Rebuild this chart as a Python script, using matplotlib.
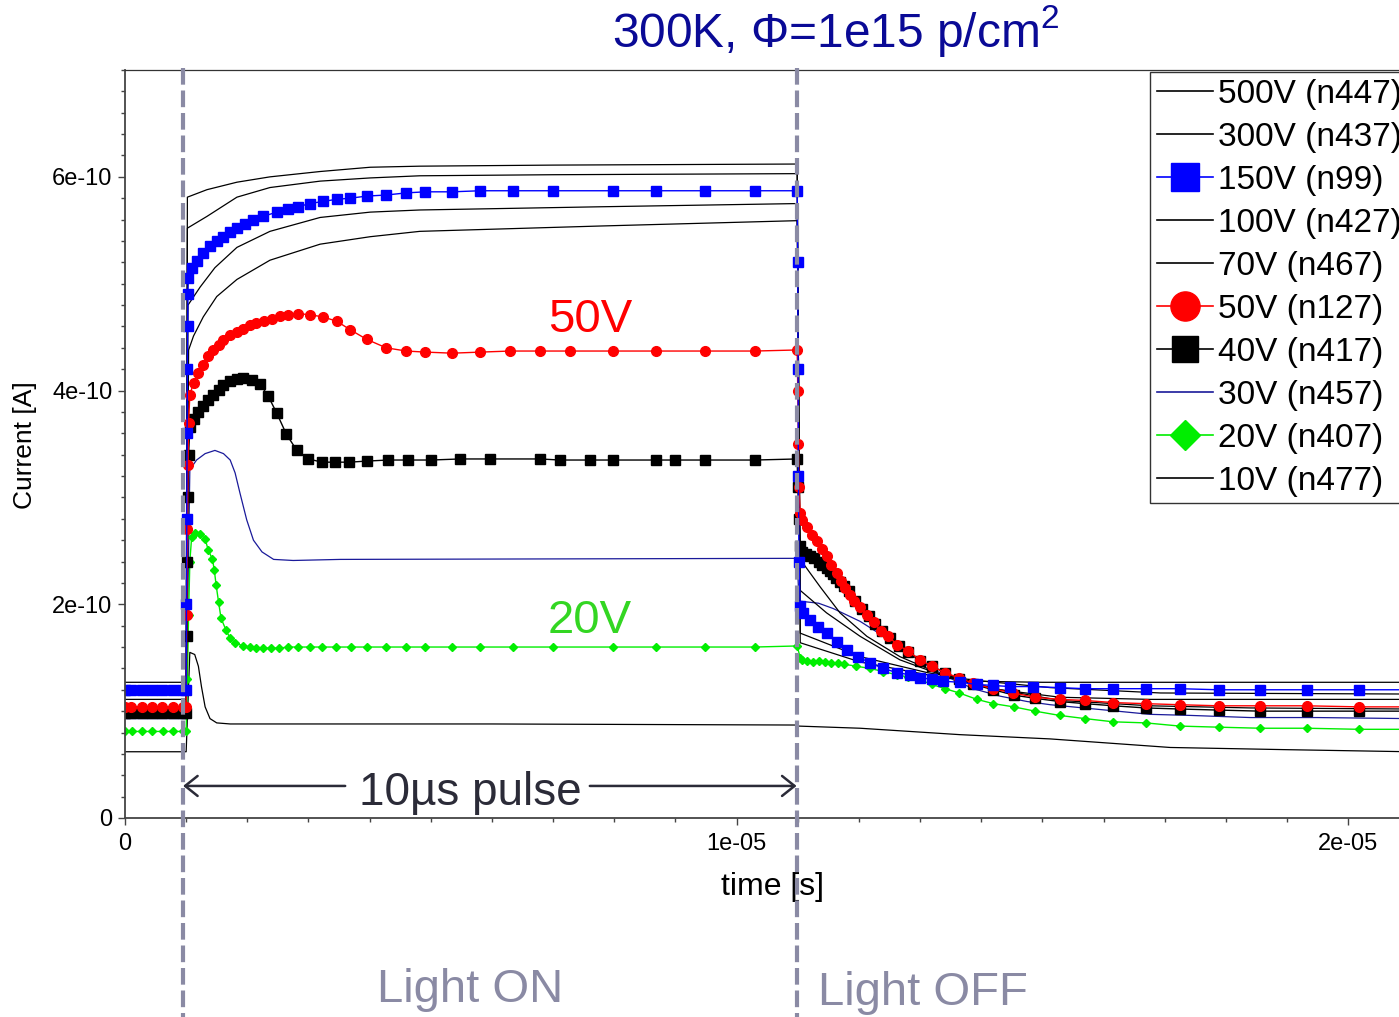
import matplotlib
matplotlib.use('Agg')
import matplotlib.pyplot as plt
import numpy as np
from matplotlib.lines import Line2D
from matplotlib.ticker import FixedLocator, MultipleLocator, FuncFormatter

plt.rcParams['font.family'] = ['Liberation Sans', 'DejaVu Sans']
plt.rcParams['mathtext.fontset'] = 'custom'
plt.rcParams['mathtext.rm'] = 'Liberation Sans'

# transient current after a 10 us light pulse, (time [us], current [1e-10 A])
T_ON, T_OFF = 0.95, 10.98

s500 = [(0, 1.27), (1.0, 1.27), (1.02, 5.81), (1.34, 5.88), (1.83, 5.95), (2.37, 6.00), (3.19, 6.05),
        (4.01, 6.09), (4.82, 6.10), (7.0, 6.11), (10.99, 6.12), (11.04, 1.64), (12.02, 1.46),
        (13.12, 1.34), (13.87, 1.28), (15.0, 1.27), (21.0, 1.27)]
s300 = [(0, 1.16), (1.0, 1.16), (1.02, 5.52), (1.34, 5.63), (1.83, 5.81), (2.37, 5.90), (3.19, 5.96),
        (4.01, 5.99), (4.82, 6.01), (7.0, 6.02), (10.99, 6.03), (11.04, 1.73), (12.02, 1.51),
        (13.12, 1.36), (13.87, 1.29), (15.13, 1.22), (16.93, 1.17), (21.0, 1.16)]
s150 = [(0, 1.20), (0.1, 1.20), (0.28, 1.20), (0.44, 1.20), (0.6, 1.20), (0.78, 1.20), (0.95, 1.20),
        (1.0, 1.20), (1.005, 2.0), (1.01, 2.8), (1.015, 3.6), (1.02, 4.2), (1.025, 4.6), (1.03, 4.9),
        (1.035, 5.05), (1.09, 5.15), (1.17, 5.21), (1.28, 5.29), (1.39, 5.35), (1.50, 5.40), (1.61, 5.44),
        (1.72, 5.48), (1.83, 5.52), (1.96, 5.56), (2.10, 5.60), (2.26, 5.63), (2.48, 5.67), (2.67, 5.70),
        (2.83, 5.72), (3.02, 5.75), (3.24, 5.77), (3.46, 5.79), (3.68, 5.80), (3.95, 5.82), (4.27, 5.83),
        (4.60, 5.85), (4.91, 5.86), (5.35, 5.86), (5.81, 5.87), (6.35, 5.87), (7.0, 5.87), (7.98, 5.87),
        (8.68, 5.87), (9.48, 5.87), (10.3, 5.87), (10.99, 5.87), (11.0, 5.2), (11.005, 4.2), (11.01, 3.2),
        (11.02, 2.4), (11.04, 1.98), (11.09, 1.92), (11.20, 1.85), (11.33, 1.79), (11.47, 1.73),
        (11.64, 1.65), (11.80, 1.57), (11.99, 1.51), (12.18, 1.45), (12.40, 1.40), (12.62, 1.36),
        (12.84, 1.34), (13.00, 1.31), (13.19, 1.30), (13.38, 1.28), (13.65, 1.27), (13.93, 1.25),
        (14.20, 1.24), (14.47, 1.23), (14.85, 1.23), (15.28, 1.22), (15.70, 1.21), (16.16, 1.21),
        (16.69, 1.21), (17.25, 1.21), (17.88, 1.20), (18.56, 1.20), (19.32, 1.20), (20.17, 1.20),
        (21.0, 1.20)]
s100 = [(0, 1.11), (1.0, 1.11), (1.03, 4.80), (1.23, 4.97), (1.47, 5.15), (1.83, 5.34), (2.37, 5.49),
        (3.19, 5.62), (4.01, 5.67), (4.82, 5.69), (7.77, 5.72), (10.99, 5.75), (11.04, 2.13), (11.47, 1.92),
        (12.02, 1.70), (12.67, 1.48), (13.44, 1.32), (14.31, 1.20), (15.29, 1.13), (16.76, 1.11), (21.0, 1.11)]
s70 = [(0, 1.01), (1.0, 1.01), (1.04, 4.38), (1.12, 4.51), (1.28, 4.69), (1.50, 4.88), (1.83, 5.04),
       (2.37, 5.22), (3.19, 5.37), (4.01, 5.44), (4.82, 5.49), (7.77, 5.54), (10.99, 5.59), (11.04, 2.42),
       (11.37, 2.16), (11.69, 1.92), (12.13, 1.70), (12.67, 1.51), (13.28, 1.36), (13.65, 1.29),
       (14.31, 1.20), (15.29, 1.10), (16.76, 1.05), (18.4, 1.03), (21.0, 1.02)]
s50 = [(0, 1.04), (0.1, 1.04), (0.28, 1.04), (0.44, 1.04), (0.6, 1.04), (0.78, 1.04), (0.95, 1.04),
       (1.0, 1.04), (1.01, 1.9), (1.02, 2.7), (1.03, 3.3), (1.04, 3.7), (1.06, 3.96), (1.12, 4.07),
       (1.20, 4.16), (1.28, 4.24), (1.36, 4.32), (1.44, 4.38), (1.53, 4.43), (1.61, 4.47), (1.72, 4.52),
       (1.83, 4.55), (1.93, 4.58), (2.04, 4.61), (2.15, 4.63), (2.27, 4.65), (2.40, 4.67), (2.53, 4.70),
       (2.67, 4.71), (2.83, 4.72), (3.02, 4.71), (3.23, 4.69), (3.46, 4.65), (3.68, 4.57), (3.95, 4.48),
       (4.27, 4.40), (4.60, 4.37), (4.91, 4.36), (5.35, 4.35), (5.81, 4.36), (6.30, 4.37), (6.79, 4.37),
       (7.28, 4.37), (7.98, 4.37), (8.68, 4.37), (9.48, 4.37), (10.30, 4.37), (10.99, 4.38), (11.0, 4.0),
       (11.01, 3.5), (11.02, 3.1), (11.04, 2.85), (11.07, 2.79), (11.15, 2.72), (11.23, 2.65),
       (11.31, 2.59), (11.39, 2.52), (11.47, 2.45), (11.55, 2.37), (11.64, 2.29), (11.70, 2.22),
       (11.77, 2.15), (11.85, 2.09), (11.92, 2.03), (12.02, 1.97), (12.13, 1.90), (12.24, 1.83),
       (12.36, 1.75), (12.48, 1.70), (12.63, 1.62), (12.81, 1.56), (13.00, 1.48), (13.19, 1.42),
       (13.41, 1.36), (13.64, 1.31), (13.87, 1.26), (14.19, 1.21), (14.52, 1.17), (14.88, 1.13),
       (15.28, 1.11), (15.70, 1.10), (16.16, 1.08), (16.69, 1.07), (17.25, 1.06), (17.88, 1.05),
       (18.56, 1.05), (19.32, 1.05), (20.17, 1.04), (21.0, 1.04)]
s40 = [(0, 0.98), (0.1, 0.98), (0.28, 0.98), (0.44, 0.98), (0.6, 0.98), (0.78, 0.98), (0.95, 0.98),
       (1.0, 0.98), (1.01, 1.7), (1.02, 2.4), (1.03, 3.0), (1.04, 3.4), (1.06, 3.66), (1.12, 3.73),
       (1.20, 3.80), (1.28, 3.86), (1.36, 3.91), (1.44, 3.96), (1.53, 4.01), (1.61, 4.05), (1.72, 4.09),
       (1.83, 4.11), (1.93, 4.12), (2.07, 4.10), (2.21, 4.06), (2.34, 3.95), (2.48, 3.79), (2.64, 3.59),
       (2.81, 3.44), (3.00, 3.36), (3.22, 3.33), (3.43, 3.33), (3.67, 3.33), (3.95, 3.34), (4.30, 3.35),
       (4.62, 3.35), (5.0, 3.35), (5.48, 3.36), (5.97, 3.36), (6.79, 3.36), (7.11, 3.35), (7.60, 3.35),
       (7.98, 3.35), (8.68, 3.35), (9.0, 3.35), (9.48, 3.35), (10.30, 3.35), (10.99, 3.36), (11.0, 3.1),
       (11.02, 2.8), (11.04, 2.55), (11.07, 2.49), (11.13, 2.47), (11.20, 2.45), (11.27, 2.43),
       (11.34, 2.40), (11.40, 2.37), (11.47, 2.34), (11.52, 2.31), (11.58, 2.28), (11.63, 2.25),
       (11.69, 2.21), (11.76, 2.17), (11.83, 2.12), (11.94, 2.03), (12.05, 1.96), (12.16, 1.89),
       (12.26, 1.82), (12.37, 1.75), (12.51, 1.68), (12.65, 1.61), (12.81, 1.55), (13.00, 1.47),
       (13.19, 1.42), (13.41, 1.36), (13.64, 1.30), (13.87, 1.25), (14.20, 1.20), (14.53, 1.15),
       (14.88, 1.12), (15.28, 1.09), (15.70, 1.07), (16.16, 1.05), (16.69, 1.03), (17.25, 1.02),
       (17.88, 1.01), (18.56, 1.00), (19.32, 1.00), (20.17, 1.00), (21.0, 1.00)]
s30 = [(0, 0.93), (1.0, 0.93), (1.06, 3.26), (1.17, 3.35), (1.31, 3.41), (1.47, 3.44), (1.61, 3.41),
       (1.72, 3.35), (1.80, 3.23), (1.88, 3.04), (1.99, 2.79), (2.10, 2.60), (2.24, 2.49), (2.43, 2.42),
       (2.75, 2.41), (3.52, 2.42), (10.99, 2.43), (11.02, 2.03), (11.34, 2.01), (11.58, 1.96),
       (11.80, 1.90), (12.02, 1.84), (12.24, 1.76), (12.46, 1.68), (12.67, 1.60), (12.89, 1.52),
       (13.11, 1.43), (13.44, 1.32), (13.87, 1.21), (14.31, 1.14), (14.75, 1.09), (15.13, 1.06),
       (15.67, 1.03), (16.22, 1.00), (16.76, 0.97), (17.42, 0.96), (18.40, 0.94), (19.49, 0.94),
       (21.0, 0.93)]
s20 = [(0, 0.81), (0.11, 0.81), (0.28, 0.81), (0.44, 0.81), (0.62, 0.81), (0.78, 0.81), (0.95, 0.81),
       (1.0, 0.81), (1.02, 1.3), (1.04, 1.9), (1.06, 2.4), (1.09, 2.63), (1.14, 2.67), (1.23, 2.66),
       (1.31, 2.61), (1.36, 2.51), (1.43, 2.42), (1.46, 2.32), (1.49, 2.18), (1.53, 2.02), (1.57, 1.87),
       (1.65, 1.76), (1.72, 1.68), (1.80, 1.64), (1.93, 1.61), (2.04, 1.60), (2.15, 1.59), (2.26, 1.59),
       (2.39, 1.59), (2.52, 1.59), (2.67, 1.60), (2.83, 1.60), (3.03, 1.60), (3.22, 1.60), (3.45, 1.60),
       (3.69, 1.60), (3.96, 1.60), (4.27, 1.60), (4.60, 1.60), (4.91, 1.60), (5.35, 1.60), (5.81, 1.60),
       (6.35, 1.60), (7.0, 1.60), (7.98, 1.60), (8.68, 1.60), (9.48, 1.60), (10.30, 1.60), (10.99, 1.61),
       (11.04, 1.50), (11.07, 1.48), (11.15, 1.47), (11.25, 1.46), (11.35, 1.47), (11.45, 1.46),
       (11.55, 1.45), (11.65, 1.45), (11.75, 1.44), (11.96, 1.42), (12.18, 1.40), (12.40, 1.37),
       (12.62, 1.34), (12.80, 1.32), (12.97, 1.30), (13.19, 1.25), (13.41, 1.21), (13.64, 1.17),
       (13.93, 1.11), (14.20, 1.07), (14.53, 1.04), (14.88, 1.00), (15.28, 0.96), (15.70, 0.93),
       (16.16, 0.90), (16.69, 0.89), (17.25, 0.86), (17.88, 0.85), (18.56, 0.84), (19.32, 0.84),
       (20.17, 0.83), (21.0, 0.83)]
s10 = [(0, 0.62), (1.0, 0.62), (1.06, 1.55), (1.14, 1.53), (1.20, 1.42), (1.25, 1.23), (1.31, 1.04),
       (1.39, 0.93), (1.50, 0.89), (1.72, 0.88), (6.0, 0.88), (10.99, 0.87), (11.02, 0.86), (12.02, 0.84),
       (13.65, 0.78), (15.13, 0.74), (17.09, 0.66), (18.94, 0.64), (21.0, 0.62)]

labels = ['500V (n447)', '300V (n437)', '150V (n99)', '100V (n427)', '70V (n467)',
          '50V (n127)', '40V (n417)', '30V (n457)', '20V (n407)', '10V (n477)']

BLUE, RED, GREEN, NAVY = '#0000ff', '#ff0000', '#00ee00', '#1a1a9a'
GREY = '#8a8aa4'
INK = '#2b2b38'

fig = plt.figure(figsize=(13.99, 10.17), dpi=100)
ax = fig.add_axes([125 / 1399, 199 / 1017, 1274 / 1399, 748 / 1017])


def draw(series, **kw):
    t, cur = zip(*series)
    ax.plot(np.array(t) * 1e-6, np.array(cur) * 1e-10, **kw)


thin = dict(color='black', lw=0.9)
draw(s10, **thin)
draw(s30, color=NAVY, lw=0.9)
draw(s70, **thin)
draw(s100, **thin)
draw(s300, **thin)
draw(s500, **thin)
draw(s20, color=GREEN, lw=1, marker='D', ms=4.5, mec=GREEN)
draw(s40, color='black', lw=1, marker='s', ms=6.5)
draw(s50, color=RED, lw=1, marker='o', ms=7)
draw(s150, color=BLUE, lw=1, marker='s', ms=6.5)

ax.set_xlim(0, 2.083e-5)
ax.set_ylim(0, 7e-10)

# light on / light off markers, running down past the axes
for tx in (T_ON, T_OFF):
    ax.plot([tx * 1e-6, tx * 1e-6], [1.003, -0.27], transform=ax.get_xaxis_transform(),
            color=GREY, lw=3, dashes=(4, 1.4), clip_on=False, zorder=10)

# pulse length arrow, split around its label
arrow_y = 0.30e-10
head = dict(arrowstyle='->,head_length=0.45,head_width=0.36', lw=1.8, color=INK,
            shrinkA=0, shrinkB=0, mutation_scale=20)
ax.annotate('', xy=(T_ON * 1e-6, arrow_y), xytext=(3.6e-6, arrow_y), arrowprops=head)
ax.annotate('', xy=(T_OFF * 1e-6, arrow_y), xytext=(7.6e-6, arrow_y), arrowprops=head)
ax.text(5.64e-6, 0.12e-10, '10\u00b5s pulse', fontsize=33, color=INK, ha='center', va='baseline')

ax.text(7.6e-6, 4.55e-10, '50V', fontsize=34, color=RED, ha='center', va='baseline')
ax.text(7.6e-6, 1.73e-10, '20V', fontsize=34, color='#33d622', ha='center', va='baseline')

fig.text(836 / 1399, 1 - 47 / 1017, '300K, \u03a6=1e15 p/cm$^2$', fontsize=34.5, color='#0a0a96',
         ha='center', va='baseline')
fig.text(470 / 1399, 1 - 1002 / 1017, 'Light ON', fontsize=34, color=GREY, ha='center', va='baseline')
fig.text(818 / 1399, 1 - 1005 / 1017, 'Light OFF', fontsize=34, color=GREY, ha='left', va='baseline')

# axes styling
fmt = FuncFormatter(lambda v, p: '0' if abs(v) < 1e-25 else f'{v:.0e}')
ax.xaxis.set_major_locator(FixedLocator([0, 1e-5, 2e-5]))
ax.xaxis.set_minor_locator(MultipleLocator(1e-6))
ax.yaxis.set_major_locator(MultipleLocator(2e-10))
ax.yaxis.set_minor_locator(MultipleLocator(2e-11))
ax.xaxis.set_major_formatter(fmt)
ax.yaxis.set_major_formatter(fmt)
ax.tick_params(which='major', length=5, width=1, labelsize=17, color='#444444')
ax.tick_params(which='minor', length=3, width=1, color='#444444')
ax.tick_params(axis='x', pad=6)
ax.tick_params(axis='y', pad=4)
ax.spines['right'].set_visible(False)
for side in ('left', 'bottom'):
    ax.spines[side].set_color('#444444')
    ax.spines[side].set_linewidth(1.3)
ax.spines['top'].set_color('#333333')
ax.spines['top'].set_linewidth(0.9)

ax.set_xlabel('time [s]', fontsize=23)
ax.xaxis.set_label_coords(0.5086, -0.092)
ax.xaxis.label.set_verticalalignment('center')
ax.set_ylabel('Current [A]', fontsize=19)
ax.yaxis.set_label_coords(-0.0785, 0.4987)
ax.yaxis.label.set_verticalalignment('center')

handles = [
    Line2D([], [], color='black', lw=1.2),
    Line2D([], [], color='black', lw=1.2),
    Line2D([], [], color=BLUE, lw=1.2, marker='s', ms=20),
    Line2D([], [], color='black', lw=1.2),
    Line2D([], [], color='black', lw=1.2),
    Line2D([], [], color=RED, lw=1.2, marker='o', ms=21),
    Line2D([], [], color='black', lw=1.2, marker='s', ms=19),
    Line2D([], [], color=NAVY, lw=1.2),
    Line2D([], [], color=GREEN, lw=1.2, marker='D', ms=15),
    Line2D([], [], color='black', lw=1.2),
]
leg = ax.legend(handles, labels, loc='upper left', bbox_to_anchor=(1150 / 1399, 1 - 72 / 1017),
                bbox_transform=fig.transFigure, fontsize=24, frameon=True, fancybox=False,
                framealpha=1, edgecolor='#333333', borderaxespad=0, borderpad=0.2,
                labelspacing=0.36, handlelength=1.7, handletextpad=0.15)
leg.get_frame().set_linewidth(1)

fig.savefig('out.png', dpi=100)
